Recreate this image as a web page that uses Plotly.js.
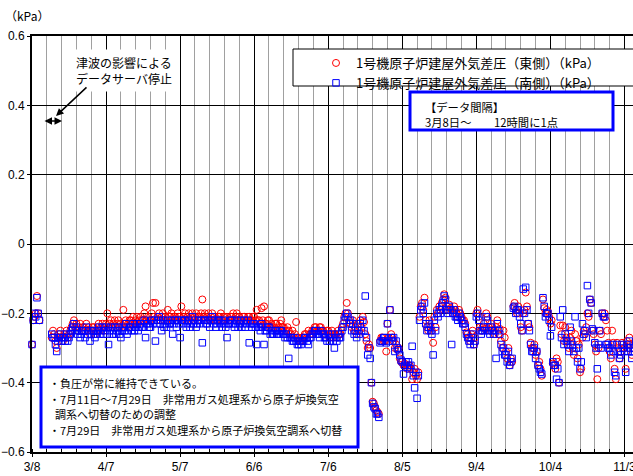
<!DOCTYPE html>
<html><head><meta charset="utf-8">
<script src="https://cdn.plot.ly/plotly-3.0.1.min.js"></script>
<style>html,body{margin:0;padding:0;overflow:hidden;background:#fff;width:633px;height:476px}#chart{width:680px;height:476px}</style>
</head><body><div id="chart"></div>
<script>
// ---- data ----
const startYear = 2011, startMonth = 3, startDay = 8;   // first sample: 3/8 00:00
const stepHours = 12;                                   // 12時間に1点
const tickDates = ['2011-03-08','2011-04-07','2011-05-07','2011-06-06','2011-07-06','2011-08-05','2011-09-04','2011-10-04','2011-11-03'];
const tickLabels = ['3/8','4/7','5/7','6/6','7/6','8/5','9/4','10/4','11/3'];
const seriesNames = ['1号機原子炉建屋外気差圧（東側）（kPa）','1号機原子炉建屋外気差圧（南側）（kPa）'];

const eastValues = [
-0.29,-0.22, -0.21,-0.20, -0.15,-0.20, -0.22,null, null,null, null,null, null,null, null,null, -0.27,-0.25, -0.26,-0.28,
-0.30,-0.27, -0.26,-0.25, -0.27,-0.28, -0.26,-0.27, -0.25,-0.27, -0.26,-0.25, -0.24,-0.23, -0.22,-0.24, -0.23,-0.25, -0.24,-0.23,
-0.25,-0.24, -0.24,-0.25, -0.23,-0.25, -0.24,-0.26, -0.25,-0.24, -0.24,-0.26, -0.25,-0.24, -0.23,-0.25, -0.24,-0.23, -0.25,-0.24,
-0.23,-0.20, -0.24,-0.23, -0.22,-0.24, -0.23,-0.22, -0.24,-0.23, -0.22,-0.24, -0.23,-0.24, -0.19,-0.23, -0.22,-0.24, -0.23,-0.22,
-0.22,-0.23, -0.21,-0.23, -0.22,-0.21, -0.23,-0.22, -0.21,-0.22, -0.22,-0.20, -0.18,-0.22, -0.21,-0.22, -0.22,-0.20, -0.17,-0.21,
-0.17,-0.22, -0.21,-0.20, -0.22,-0.21, -0.20,-0.22, -0.21,-0.22, -0.19,-0.21, -0.21,-0.20, -0.22,-0.21, -0.21,-0.22, -0.20,-0.21,
-0.21,-0.18, -0.22,-0.21, -0.20,-0.22, -0.21,-0.20, -0.22,-0.21, -0.20,-0.22, -0.21,-0.20, -0.22,-0.21, -0.21,-0.20, -0.16,-0.21,
-0.20,-0.22, -0.21,-0.20, -0.22,-0.21, -0.20,-0.22, -0.21,-0.22, -0.22,-0.21, -0.21,-0.20, -0.22,-0.21, -0.21,-0.22, -0.21,-0.22,
-0.22,-0.21, -0.21,-0.20, -0.22,-0.21, -0.20,-0.22, -0.21,-0.22, -0.22,-0.21, -0.21,-0.22, -0.22,-0.21, -0.21,-0.22, -0.22,-0.21,
-0.21,-0.22, -0.19,-0.22, -0.22,-0.23, -0.185,-0.22, -0.18,-0.23, -0.23,-0.22, -0.22,-0.24, -0.23,-0.24, -0.24,-0.23, -0.23,-0.25,
-0.24,-0.23, -0.22,-0.24, -0.24,-0.25, -0.25,-0.24, -0.25,-0.26, -0.26,-0.25, -0.27,-0.26, -0.225,-0.27, -0.27,-0.28, -0.28,-0.27,
-0.27,-0.26, -0.26,-0.27, -0.25,-0.26, -0.26,-0.25, -0.25,-0.24, -0.24,-0.25, -0.25,-0.24, -0.24,-0.25, -0.25,-0.26, -0.26,-0.25,
-0.25,-0.27, -0.26,-0.25, -0.27,-0.26, -0.26,-0.27, -0.25,-0.26, -0.26,-0.24, -0.23,-0.21, -0.20,-0.17, -0.20,-0.22, -0.23,-0.24,
-0.22,-0.25, -0.24,-0.26, -0.23,-0.25, -0.22,-0.24, -0.21,-0.225, -0.26,-0.28, -0.30,-0.29, -0.30,-0.40, -0.455,-0.46, -0.47,-0.48,
-0.485,-0.49, -0.28,-0.27, -0.27,-0.28, -0.28,-0.31, -0.23,-0.27, -0.19,-0.26, -0.27,-0.28, -0.30,-0.29, -0.305,-0.30, -0.33,-0.34,
-0.34,-0.35, -0.345,-0.35, -0.36,-0.35, -0.35,-0.36, -0.39,-0.37, -0.36,-0.38, -0.39,-0.37, -0.21,-0.18, -0.17,-0.19, -0.155,-0.22,
-0.24,-0.25, -0.22,-0.24, -0.25,-0.285, -0.21,-0.24, -0.19,-0.20, -0.18,-0.19, -0.17,-0.16, -0.145,-0.155, -0.18,-0.19, -0.175,-0.185,
-0.19,-0.20, -0.18,-0.19, -0.20,-0.21, -0.19,-0.20, -0.21,-0.22, -0.22,-0.23, -0.255,-0.26, -0.27,-0.28, -0.26,-0.25, -0.29,-0.27,
-0.20,-0.19, -0.21,-0.24, -0.25,-0.24, -0.23,-0.245, -0.20,-0.21, -0.24,-0.25, -0.23,-0.24, -0.25,-0.26, -0.24,-0.22, -0.26,-0.245,
-0.28,-0.30, -0.25,-0.27, -0.31,-0.33, -0.30,-0.35, -0.33,-0.34, -0.18,-0.17, -0.19,-0.20, -0.18,-0.20, -0.24,-0.25, -0.20,-0.19,
-0.14,-0.18, -0.23,-0.24, -0.285,-0.30, -0.30,-0.29, -0.32,-0.31, -0.35,-0.34, -0.36,-0.38, -0.16,-0.185, -0.20,-0.19, -0.195,-0.21,
-0.23,-0.22, -0.345,-0.35, -0.36,-0.33, -0.34,-0.40, -0.235,-0.26, -0.235,-0.28, -0.24,-0.27, -0.28,-0.30, -0.27,-0.25, -0.30,-0.32,
-0.26,-0.28, -0.33,-0.29, -0.37,-0.36, -0.27,-0.25, -0.26,-0.24, -0.20,-0.21, -0.16,-0.17, -0.25,-0.26, -0.29,-0.31, -0.39,-0.30,
-0.25,-0.26, -0.20,-0.21, -0.20,-0.22, -0.25,-0.285, -0.31,-0.33, -0.25,-0.285, -0.36,-0.39, -0.285,-0.30, -0.33,-0.31, -0.285,-0.29,
-0.30,-0.36, -0.28,-0.30, -0.27,-0.29, -0.32,-0.30, -0.29,-0.28
];

const southValues = [
-0.29,-0.22, -0.20,-0.21, -0.155,-0.20, -0.22,null, null,null, null,null, null,null, null,null, -0.26,-0.27, -0.27,-0.29,
-0.31,-0.28, -0.27,-0.26, -0.28,-0.27, -0.27,-0.28, -0.26,-0.28, -0.27,-0.26, -0.25,-0.24, -0.23,-0.25, -0.24,-0.26, -0.25,-0.27,
-0.26,-0.25, -0.25,-0.27, -0.24,-0.26, -0.25,-0.28, -0.26,-0.25, -0.25,-0.27, -0.26,-0.25, -0.24,-0.26, -0.25,-0.24, -0.26,-0.25,
-0.24,-0.26, -0.29,-0.25, -0.24,-0.26, -0.25,-0.24, -0.26,-0.25, -0.24,-0.26, -0.27,-0.25, -0.24,-0.25, -0.23,-0.26, -0.25,-0.24,
-0.24,-0.25, -0.23,-0.25, -0.24,-0.23, -0.25,-0.24, -0.23,-0.24, -0.24,-0.22, -0.27,-0.23, -0.23,-0.24, -0.24,-0.22, -0.23,-0.22,
-0.28,-0.23, -0.22,-0.21, -0.23,-0.25, -0.22,-0.24, -0.23,-0.24, -0.22,-0.23, -0.23,-0.22, -0.26,-0.23, -0.22,-0.24, -0.22,-0.23,
-0.27,-0.22, -0.23,-0.22, -0.22,-0.24, -0.23,-0.22, -0.24,-0.23, -0.21,-0.23, -0.22,-0.24, -0.23,-0.22, -0.23,-0.22, -0.285,-0.22,
-0.22,-0.23, -0.23,-0.22, -0.24,-0.22, -0.21,-0.23, -0.22,-0.24, -0.23,-0.22, -0.22,-0.23, -0.24,-0.22, -0.23,-0.24, -0.27,-0.23,
-0.23,-0.22, -0.22,-0.23, -0.24,-0.23, -0.22,-0.24, -0.23,-0.22, -0.24,-0.23, -0.22,-0.24, -0.23,-0.22, -0.285,-0.23, -0.24,-0.23,
-0.23,-0.24, -0.29,-0.24, -0.24,-0.25, -0.23,-0.24, -0.29,-0.25, -0.25,-0.24, -0.24,-0.26, -0.25,-0.26, -0.26,-0.25, -0.25,-0.26,
-0.26,-0.25, -0.25,-0.26, -0.26,-0.27, -0.26,-0.27, -0.33,-0.27, -0.27,-0.28, -0.28,-0.27, -0.28,-0.29, -0.29,-0.28, -0.29,-0.28,
-0.28,-0.27, -0.27,-0.28, -0.29,-0.27, -0.27,-0.26, -0.26,-0.25, -0.25,-0.26, -0.26,-0.27, -0.25,-0.26, -0.26,-0.27, -0.27,-0.28,
-0.26,-0.28, -0.27,-0.26, -0.28,-0.30, -0.27,-0.28, -0.26,-0.27, -0.27,-0.25, -0.24,-0.22, -0.21,-0.20, -0.21,-0.23, -0.22,-0.25,
-0.23,-0.26, -0.25,-0.27, -0.24,-0.26, -0.23,-0.25, -0.22,-0.25, -0.15,-0.27, -0.32,-0.30, -0.33,-0.40, -0.46,-0.47, -0.475,-0.49,
-0.49,-0.50, -0.285,-0.28, -0.28,-0.27, -0.27,-0.285, -0.23,-0.28, -0.19,-0.27, -0.28,-0.27, -0.31,-0.28, -0.30,-0.305, -0.32,-0.335,
-0.34,-0.375, -0.35,-0.34, -0.355,-0.34, -0.36,-0.35, -0.295,-0.38, -0.415,-0.37, -0.445,-0.38, -0.22,-0.19, -0.18,-0.20, -0.17,-0.23,
-0.25,-0.24, -0.23,-0.25, -0.26,-0.32, -0.22,-0.25, -0.20,-0.21, -0.19,-0.20, -0.18,-0.17, -0.15,-0.16, -0.19,-0.20, -0.18,-0.19,
-0.29,-0.20, -0.19,-0.21, -0.21,-0.22, -0.20,-0.21, -0.22,-0.23, -0.23,-0.24, -0.26,-0.27, -0.28,-0.29, -0.27,-0.26, -0.29,-0.28,
-0.21,-0.20, -0.22,-0.25, -0.26,-0.25, -0.24,-0.25, -0.21,-0.22, -0.25,-0.26, -0.24,-0.25, -0.26,-0.25, -0.33,-0.23, -0.25,-0.26,
-0.29,-0.31, -0.30,-0.32, -0.32,-0.34, -0.31,-0.35, -0.34,-0.33, -0.185,-0.18, -0.20,-0.19, -0.19,-0.21, -0.23,-0.25, -0.13,-0.20,
-0.125,-0.19, -0.23,-0.25, -0.29,-0.31, -0.31,-0.30, -0.33,-0.31, -0.35,-0.36, -0.37,-0.375, -0.155,-0.18, -0.21,-0.20, -0.20,-0.22,
-0.265,-0.24, -0.34,-0.35, -0.35,-0.39, -0.36,-0.40, -0.21,-0.27, -0.19,-0.29, -0.26,-0.28, -0.29,-0.31, -0.24,-0.28, -0.29,-0.31,
-0.21,-0.30, -0.34,-0.30, -0.36,-0.34, -0.23,-0.26, -0.25,-0.27, -0.12,-0.20, -0.16,-0.17, -0.245,-0.25, -0.285,-0.30, -0.36,-0.29,
-0.25,-0.30, -0.20,-0.21, -0.21,-0.29, -0.29,-0.30, -0.30,-0.32, -0.29,-0.31, -0.37,-0.38, -0.29,-0.31, -0.33,-0.32, -0.29,-0.30,
-0.31,-0.37, -0.29,-0.31, -0.28,-0.30, -0.33,-0.31, -0.30,-0.29
];

// sample times (regular 12 h grid from the start date)
const t0 = Date.UTC(startYear, startMonth - 1, startDay);
const times = eastValues.map((_, i) =>
  new Date(t0 + i * stepHours * 3600000).toISOString().slice(0, 16).replace('T', ' '));

// ---- layout helpers (pixel -> paper) ----
const W = 680, H = 476, ML = 32, MR = 21, MT = 36, MB = 24;
const PW = W - ML - MR, PH = H - MT - MB;
const px = v => (v - ML) / PW;
const py = v => (H - MB - v) / PH;

const jp = 'Noto Sans CJK JP';
const num = 'Liberation Sans, Arial, sans-serif';

const traces = [
  { x: times, y: eastValues, name: seriesNames[0], type: 'scatter', mode: 'markers', cliponaxis: false,
    marker: { symbol: 'circle-open', size: 7, color: '#ff0000', line: { width: 1 } } },
  { x: times, y: southValues, name: seriesNames[1], type: 'scatter', mode: 'markers', cliponaxis: false,
    marker: { symbol: 'square-open', size: 6.5, color: '#0000ff', line: { width: 1 } } }
];

const ann = (x, y, text, opts) => Object.assign({
  xref: 'paper', yref: 'paper', x: px(x), y: py(y), text: text, showarrow: false,
  xanchor: 'left', yanchor: 'middle', font: { family: jp, size: 11.3, color: '#000' }
}, opts || {});
const noteFont = { family: jp, size: 11, color: '#000' };

const layout = {
  width: W, height: H,
  margin: { l: ML, r: MR, t: MT, b: MB },
  paper_bgcolor: '#fff', plot_bgcolor: '#fff',
  showlegend: true,
  legend: { x: px(316), y: py(48), xanchor: 'left', yanchor: 'top', bgcolor: 'rgba(0,0,0,0)',
            borderwidth: 0, font: { family: jp, size: 13, color: '#000' }, tracegroupgap: 0, itemwidth: 30 },
  xaxis: {
    type: 'date', range: ['2011-03-08', '2011-11-17'],
    tickmode: 'array', tickvals: tickDates, ticktext: tickLabels,
    ticks: 'outside', ticklen: 3, tickcolor: '#000', ticklabelstandoff: 0,
    tickfont: { family: num, size: 12, color: '#000' },
    showgrid: true, gridcolor: '#000', gridwidth: 1,
    showline: true, linecolor: '#000', linewidth: 2, mirror: true, zeroline: false,
    minor: { tickmode: 'linear', tick0: '2011-03-08', dtick: 6 * 86400000, showgrid: true,
             gridcolor: '#a0a0a0', griddash: 'solid', gridwidth: 1, ticks: 'inside', ticklen: 3, tickcolor: '#000' }
  },
  yaxis: {
    range: [-0.6, 0.6], tick0: 0, dtick: 0.2,
    ticks: 'outside', ticklen: 3, tickcolor: '#000',
    tickfont: { family: num, size: 12, color: '#000' },
    showgrid: true, gridcolor: '#000', gridwidth: 1,
    zeroline: true, zerolinecolor: '#000', zerolinewidth: 1,
    showline: true, linecolor: '#000', linewidth: 2
  },
  shapes: [
    { type: 'rect', xref: 'paper', yref: 'paper', x0: px(293), x1: px(662), y0: py(86), y1: py(49),
      line: { color: '#000', width: 1 }, fillcolor: '#fff', layer: 'above' },
    { type: 'rect', xref: 'paper', yref: 'paper', x0: px(410), x1: px(613), y0: py(130), y1: py(92),
      line: { color: '#0000ff', width: 3 }, fillcolor: '#fff', layer: 'above' },
    { type: 'rect', xref: 'paper', yref: 'paper', x0: px(41), x1: px(358), y0: py(447), y1: py(367),
      line: { color: '#0000ff', width: 3 }, fillcolor: '#fff', layer: 'above' }
  ],
  annotations: [
    ann(3, 15, '（kPa）', { font: { family: jp, size: 12, color: '#000' } }),
    ann(124, 70, '津波の影響による<br>データサーバ停止', { xanchor: 'center', bgcolor: '#fff', borderpad: 4,
        font: { family: jp, size: 12, color: '#000' } }),
    { xref: 'paper', yref: 'paper', x: px(56), y: py(116), ax: 32, ay: -30, text: '', showarrow: true,
      arrowhead: 2, arrowsize: 1, arrowwidth: 1.5, arrowcolor: '#000', standoff: 0 },
    { xref: 'paper', yref: 'paper', x: px(62), y: py(121), ax: -19, ay: 0, text: '', showarrow: true,
      arrowside: 'end+start', arrowhead: 2, startarrowhead: 2, arrowsize: 1, startarrowsize: 1,
      arrowwidth: 1.5, arrowcolor: '#000', standoff: 0, startstandoff: 0 },
    ann(423, 114, '【データ間隔】<br>3月8日～　　12時間に1点', { align: 'left' }),
    ann(47, 383, '・負圧が常に維持できている。', { font: noteFont }),
    ann(47, 399, '・7月11日～7月29日　非常用ガス処理系から原子炉換気空', { font: noteFont }),
    ann(53, 414, '調系へ切替のための調整', { font: noteFont }),
    ann(47, 430, '・7月29日　非常用ガス処理系から原子炉換気空調系へ切替', { font: noteFont })
  ]
};

Plotly.newPlot('chart', traces, layout, { staticPlot: true, displayModeBar: false });
</script>
</body></html>
